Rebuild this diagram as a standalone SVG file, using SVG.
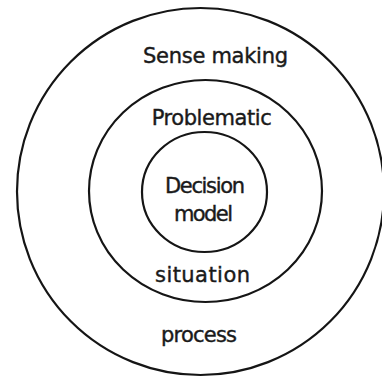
<svg xmlns="http://www.w3.org/2000/svg" width="382" height="377" viewBox="0 0 382 377">
<style>
.ring{fill:none;stroke:#151515;stroke-width:2.2}
.lbl{font-family:"DejaVu Sans",sans-serif;font-size:21px;fill:#1a1a1a;stroke:#1a1a1a;stroke-width:0.4;text-anchor:middle}
</style>
<rect width="382" height="377" fill="#fff"/>
<g id="outer">
<ellipse class="ring" cx="200.5" cy="191.5" rx="183.5" ry="183.5"/>
<text class="lbl" x="215.5" y="63" textLength="145">Sense making</text>
<text class="lbl" x="199" y="342" textLength="76">process</text>
</g>
<g id="middle">
<ellipse class="ring" cx="205.5" cy="191" rx="116.5" ry="111"/>
<text class="lbl" x="211.7" y="125" textLength="120">Problematic</text>
<text class="lbl" x="202.5" y="282" textLength="95">situation</text>
</g>
<g id="inner">
<ellipse class="ring" cx="204.5" cy="192" rx="62.5" ry="60"/>
<text class="lbl" x="205" y="193" font-size="20" textLength="80">Decision</text>
<text class="lbl" x="203.5" y="221" font-size="20" textLength="59">model</text>
</g>
<g id="connectors"/>
</svg>
